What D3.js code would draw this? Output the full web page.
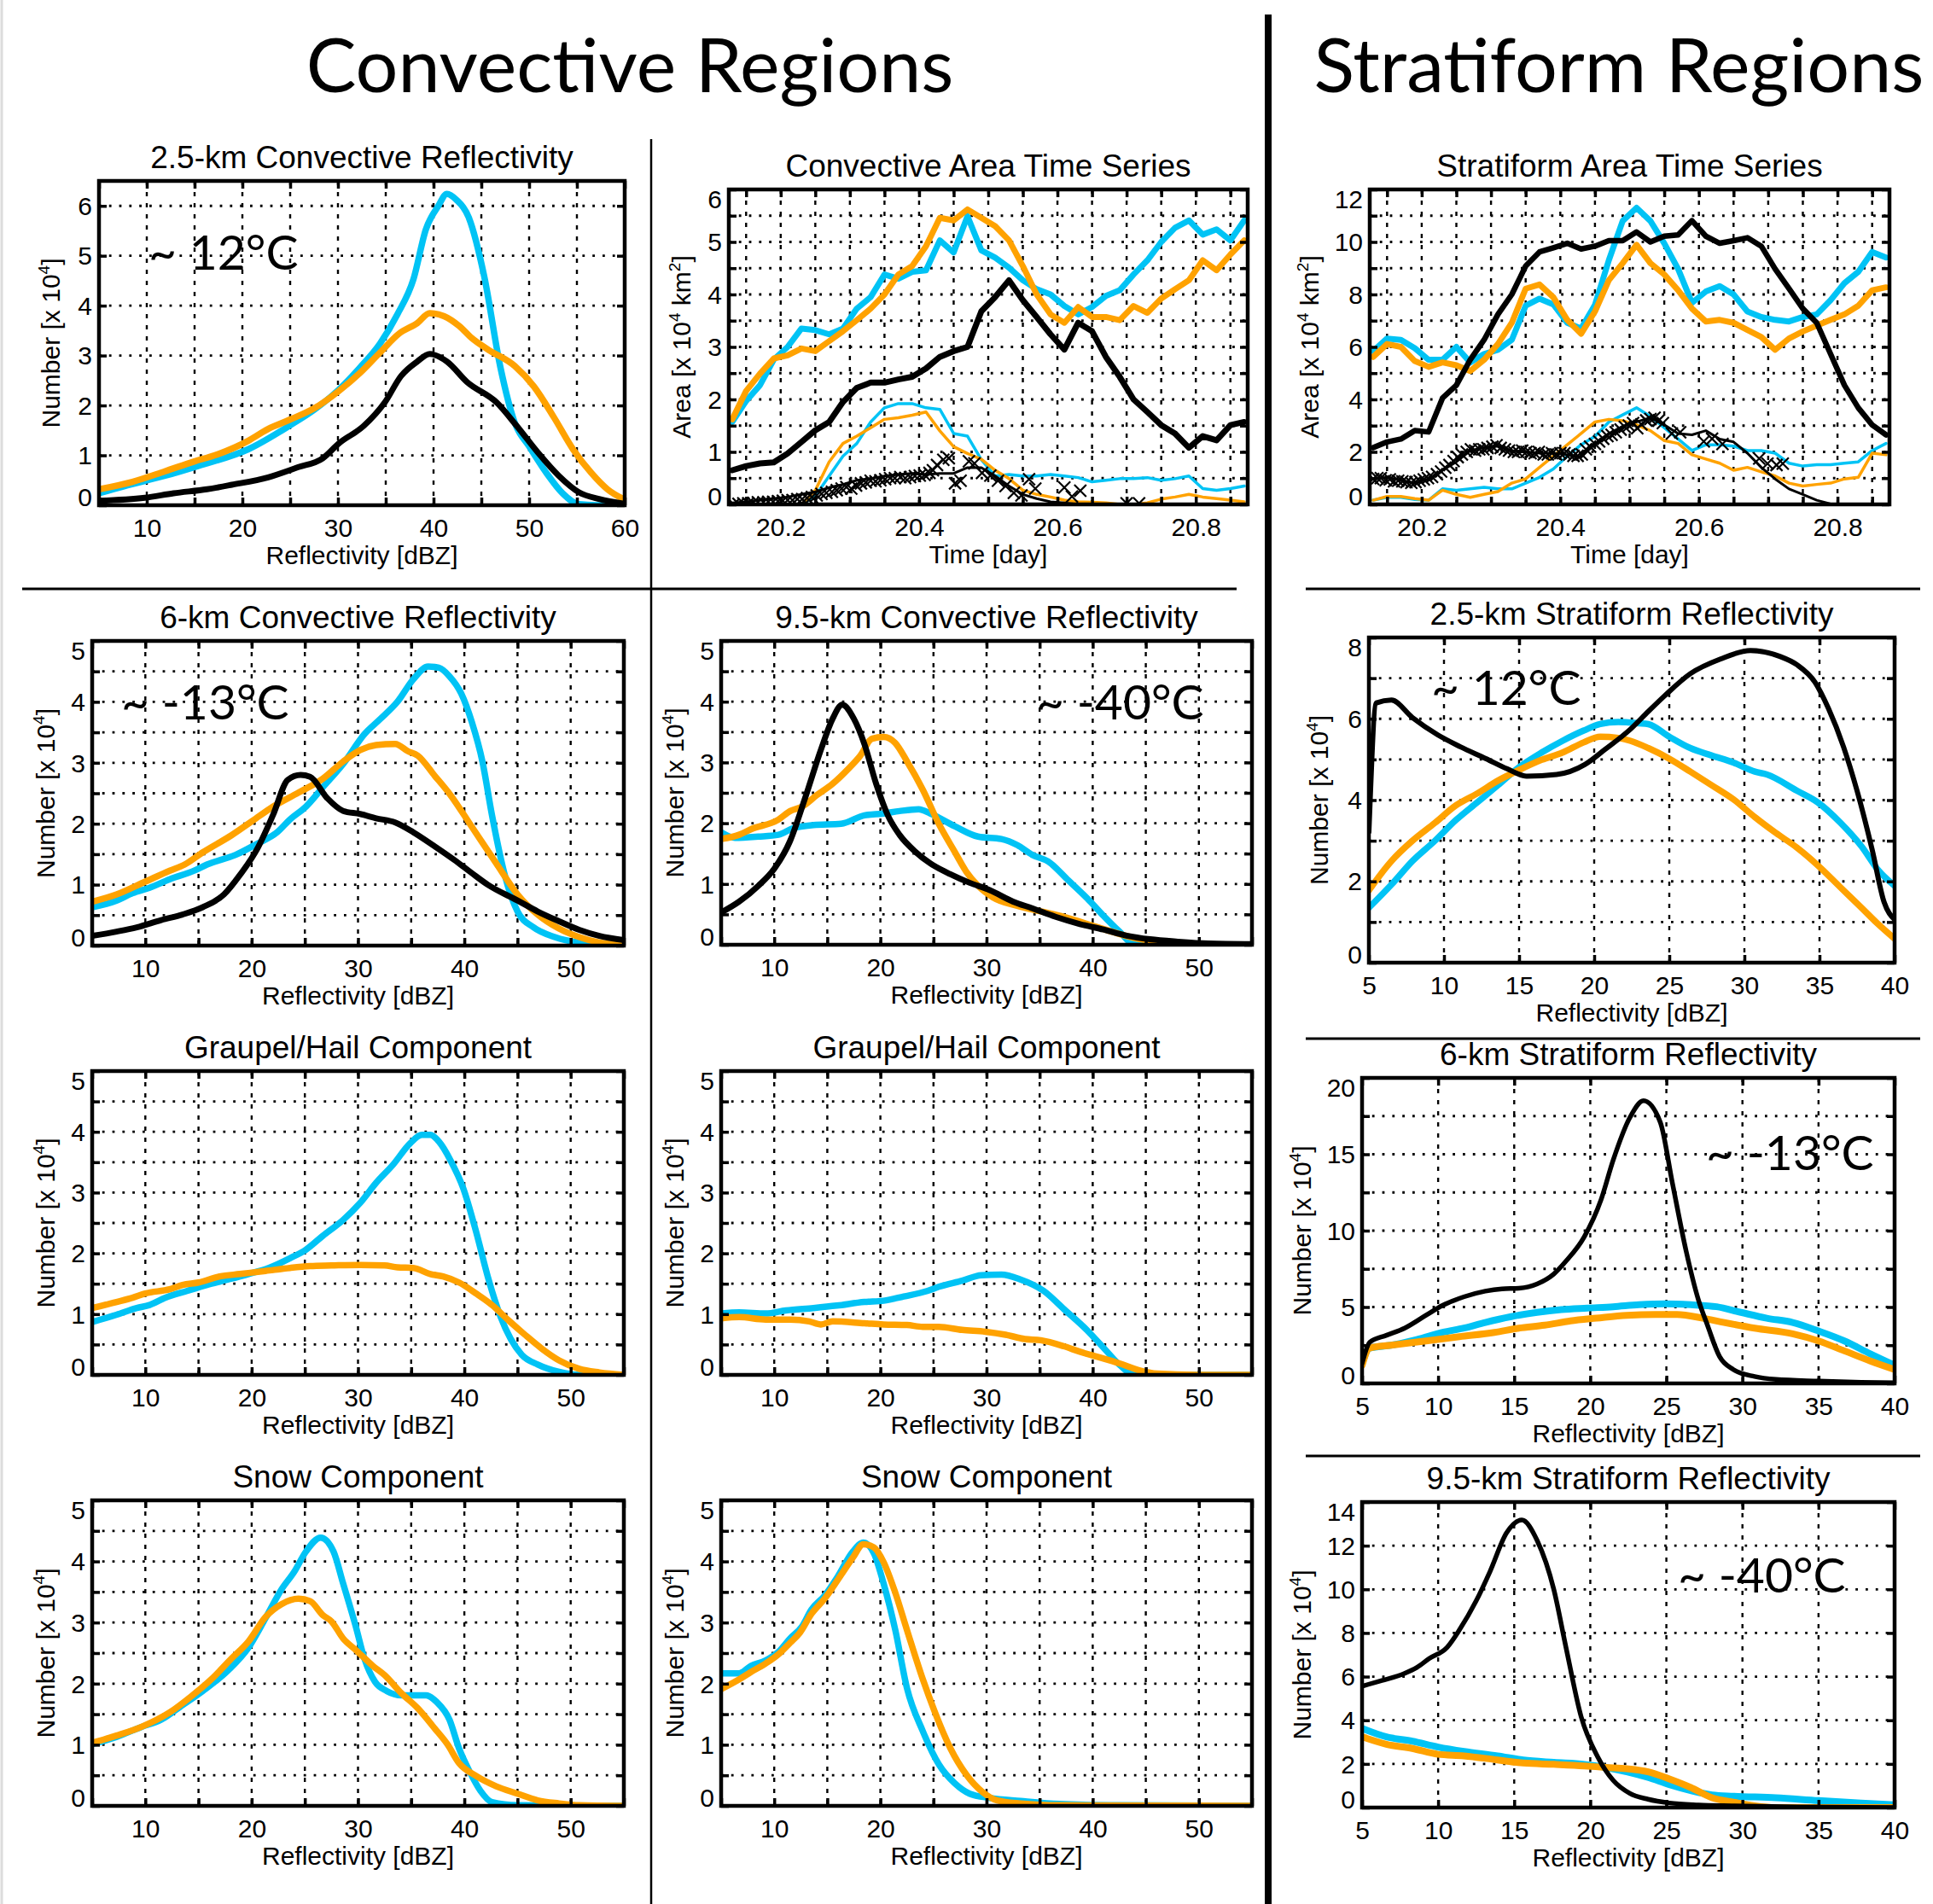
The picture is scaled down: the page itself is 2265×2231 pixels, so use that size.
<!DOCTYPE html>
<html>
<head>
<meta charset="utf-8">
<script src="https://cdn.jsdelivr.net/npm/d3@7"></script>
<style>
  body { margin: 0; background: #fff; }
  svg { display: block; }
</style>
</head>
<body>
<div id="fig"></div>
<script>
// ---------------- data ----------------
// reflectivity histograms: [dBZ, number x 10^4]
const conv25Cyan = [[5,0.24],[7.6,0.38],[11.9,0.59],[15.4,0.79],[20.6,1.12],[24.9,1.59],[27.5,1.91],[30.1,2.32],[32.3,2.76],[34.4,3.24],[36.2,3.82],[37.9,4.53],[39.2,5.53],[40.5,6.0],[41.4,6.24],[42.4,6.12],[43.7,5.76],[45.3,4.59],[47.0,2.76],[48.5,1.65],[50.0,1.18],[51.8,0.65],[53.5,0.24],[55.2,0.02],[57,0],[60,0]];
const conv25Orange = [[5,0.32],[8.5,0.47],[11.9,0.68],[15,0.88],[17.1,1.0],[20.6,1.29],[22.7,1.53],[24.9,1.71],[27.5,1.94],[30.1,2.29],[32.3,2.65],[34.4,3.06],[36.4,3.44],[38.3,3.65],[39.6,3.85],[41.1,3.79],[42.7,3.59],[44.0,3.35],[45.7,3.12],[48.5,2.79],[50.5,2.38],[52.6,1.76],[54.6,1.12],[56.5,0.65],[58.2,0.32],[59.9,0.12]];
const conv25Black = [[5,0.09],[9.8,0.15],[12.8,0.24],[16.3,0.32],[18.9,0.41],[22.7,0.56],[25.8,0.76],[28.4,0.94],[30.1,1.24],[32.7,1.59],[34.9,2.06],[36.6,2.59],[38.3,2.88],[39.6,3.03],[41.4,2.88],[43.5,2.47],[46.6,2.06],[48.7,1.59],[50.9,1.06],[53.1,0.59],[55.2,0.26],[57.4,0.12],[59.9,0.03]];

const conv6Cyan = [[5,0.63],[7.3,0.74],[8.8,0.86],[10.4,0.95],[12.3,1.09],[14.6,1.23],[15.8,1.33],[18.5,1.49],[20.5,1.67],[22.4,1.86],[23.6,2.07],[25.1,2.28],[26.7,2.6],[28.6,2.98],[30.6,3.47],[32.1,3.72],[33.7,4.0],[35.2,4.37],[36.6,4.58],[37.6,4.56],[38.6,4.42],[39.7,4.14],[40.7,3.67],[41.7,3.02],[42.6,2.14],[43.8,1.16],[45.0,0.56],[46.5,0.3],[48.5,0.14],[50.8,0.05],[55,0]];
const conv6Orange = [[5,0.72],[7.3,0.84],[10,1.05],[12.3,1.23],[13.7,1.33],[15.4,1.53],[18.1,1.81],[20.1,2.05],[22.0,2.28],[24.4,2.51],[26.7,2.74],[28.6,3.02],[30.2,3.21],[31.7,3.29],[33.5,3.31],[34.7,3.19],[35.6,3.12],[37.2,2.79],[38.7,2.47],[40.7,1.95],[43.0,1.35],[45.0,0.84],[46.9,0.51],[48.9,0.28],[50.8,0.14],[52.7,0.05],[55,0.01]];
const conv6Black = [[5,0.16],[7.3,0.23],[9.2,0.3],[11.5,0.42],[13.5,0.51],[15.4,0.63],[17.4,0.84],[18.9,1.16],[20.5,1.58],[22.0,2.14],[23.4,2.72],[24.6,2.8],[25.5,2.77],[27.1,2.42],[28.6,2.21],[30.2,2.16],[31.7,2.09],[33.5,2.02],[35.2,1.86],[37.2,1.63],[39.1,1.4],[40.7,1.19],[42.2,1.0],[45.0,0.74],[46.9,0.56],[48.9,0.4],[50.8,0.26],[52.7,0.16],[55,0.09]];

const conv95Cyan = [[5,1.85],[6.3,1.76],[8.5,1.78],[10.4,1.81],[11.8,1.92],[13.7,1.97],[16.3,1.99],[18.5,2.13],[20.3,2.16],[21.8,2.2],[23.6,2.23],[24.7,2.16],[27.0,1.95],[29.2,1.78],[31.4,1.74],[32.9,1.64],[34.3,1.48],[35.8,1.37],[37.7,1.06],[39.5,0.76],[41.0,0.48],[42.5,0.22],[43.9,0.01],[46.1,0],[55,0]];
const conv95Orange = [[5,1.74],[6.7,1.81],[7.8,1.9],[10.4,2.06],[11.5,2.2],[12.6,2.27],[14.0,2.46],[15.5,2.65],[17.0,2.9],[18.1,3.11],[19.2,3.39],[20.3,3.42],[21.4,3.32],[22.5,3.02],[24.0,2.55],[25.5,1.99],[27.0,1.53],[28.1,1.2],[29.2,0.97],[30.6,0.78],[32.9,0.64],[35.1,0.55],[37.3,0.46],[39.5,0.34],[41.7,0.22],[43.9,0.11],[46.1,0.05],[49.8,0.0],[55,0]];
const conv95Black = [[5,0.53],[6.7,0.71],[8.5,0.97],[10.0,1.25],[11.5,1.71],[12.9,2.41],[14.4,3.21],[15.5,3.72],[16.4,3.95],[17.5,3.72],[18.5,3.3],[19.6,2.65],[20.7,2.13],[21.8,1.81],[23.3,1.53],[24.7,1.34],[26.6,1.16],[28.4,1.02],[30.3,0.9],[32.5,0.71],[34.3,0.6],[36.5,0.46],[38.8,0.34],[41.0,0.25],[43.2,0.15],[45.4,0.09],[48.0,0.05],[50.9,0.02],[55,0.01]];

const strat25Black = [[5,3.22],[5.5,6.39],[6.5,6.46],[7.9,6.03],[9.6,5.6],[11.1,5.31],[12.8,5.02],[14.2,4.77],[15.5,4.59],[17.5,4.63],[19.4,4.88],[20.7,5.24],[22.4,5.74],[23.6,6.18],[24.7,6.57],[26.4,7.11],[28.4,7.47],[30.4,7.68],[32.4,7.53],[33.5,7.33],[34.7,6.9],[35.6,6.25],[36.6,5.31],[37.5,4.23],[38.5,2.79],[39.3,1.49],[40,1.06]];
const strat25Cyan = [[5,1.35],[6.5,1.92],[7.9,2.5],[9.4,3.0],[10.8,3.51],[12.2,3.94],[13.6,4.37],[15.0,4.81],[16.5,5.17],[17.9,5.46],[19.3,5.71],[20.4,5.87],[21.6,5.92],[23.0,5.89],[23.6,5.87],[25.0,5.56],[26.4,5.28],[27.8,5.1],[29.3,4.92],[30.7,4.7],[31.5,4.63],[33.5,4.23],[34.9,3.94],[36.4,3.44],[37.8,2.86],[38.9,2.28],[40,1.89]];
const strat25Orange = [[5,1.78],[6.5,2.5],[7.9,3.0],[9.4,3.44],[10.8,3.87],[12.2,4.16],[13.6,4.48],[15.0,4.74],[16.5,4.99],[17.9,5.17],[19.3,5.42],[20.4,5.56],[21.6,5.53],[22.4,5.46],[23.6,5.28],[25.0,5.02],[26.4,4.7],[27.8,4.37],[29.3,4.01],[30.7,3.58],[32.1,3.19],[33.5,2.83],[34.9,2.39],[36.4,1.85],[37.8,1.35],[38.9,0.95],[40,0.59]];

const graupelLowCyan = [[5,0.87],[7.3,0.99],[9.2,1.1],[10.4,1.15],[11.9,1.27],[13.9,1.38],[15.8,1.48],[17.8,1.57],[19.7,1.66],[21.6,1.76],[23.6,1.92],[25.1,2.06],[26.7,2.29],[28.6,2.55],[30.2,2.83],[31.7,3.16],[33.3,3.46],[34.9,3.81],[36.0,3.95],[36.8,3.95],[37.6,3.84],[38.7,3.53],[39.9,3.07],[41.1,2.36],[42.2,1.62],[43.4,0.96],[45.4,0.33],[46.9,0.17],[48.9,0.05],[50.8,0.0],[55,0]];
const graupelLowOrange = [[5,1.1],[7.3,1.2],[8.8,1.27],[10.0,1.34],[12.3,1.41],[13.5,1.48],[15.0,1.52],[17.0,1.62],[18.9,1.66],[21.3,1.71],[23.6,1.76],[25.5,1.79],[27.5,1.8],[30.2,1.81],[32.5,1.8],[33.7,1.77],[35.2,1.76],[36.8,1.66],[38.0,1.62],[39.5,1.52],[41.1,1.34],[42.6,1.15],[44.2,0.89],[45.7,0.66],[47.3,0.43],[48.9,0.24],[50.8,0.1],[52.7,0.04],[55,0.0]];
const graupelHighCyan = [[5,1.01],[6.7,1.03],[9.2,1.01],[11.1,1.06],[13.7,1.1],[15.9,1.14],[18.5,1.2],[20.3,1.22],[22.2,1.29],[24.4,1.38],[25.5,1.45],[27.7,1.55],[29.5,1.64],[31.4,1.65],[33.2,1.57],[35.4,1.38],[37.3,1.08],[39.5,0.73],[41.0,0.45],[42.5,0.17],[43.9,0.0],[46.1,0],[55,0]];
const graupelHighOrange = [[5,0.93],[6.7,0.95],[9.2,0.91],[11.5,0.91],[13.3,0.88],[14.4,0.83],[15.5,0.88],[18.5,0.85],[20.3,0.83],[22.5,0.82],[24.0,0.79],[25.5,0.79],[27.7,0.74],[29.9,0.71],[31.8,0.66],[33.6,0.59],[35.1,0.57],[37.3,0.47],[38.8,0.38],[40.6,0.29],[42.5,0.19],[44.3,0.08],[46.1,0.02],[49.8,0],[55,0]];

const strat6Black = [[5,1.29],[5.5,2.69],[6.6,3.15],[7.8,3.62],[9.2,4.46],[10.3,5.11],[11.7,5.67],[13.1,6.04],[14.2,6.19],[15.3,6.23],[16.5,6.51],[17.6,7.16],[18.4,8.0],[19.6,9.59],[20.7,12.0],[21.5,14.6],[22.6,17.4],[23.5,18.5],[24.6,17.1],[25.4,13.1],[26.3,8.66],[27.1,5.49],[27.7,3.81],[28.5,1.75],[29.4,0.91],[30.8,0.45],[32.2,0.26],[35.0,0.15],[37.8,0.07],[40,0.04]];
const strat6Cyan = [[5,1.29],[5.5,2.31],[6.9,2.5],[8.6,2.87],[10.3,3.34],[11.7,3.62],[13.1,3.99],[14.8,4.37],[16.5,4.65],[18.1,4.83],[19.8,4.93],[21.5,5.02],[23.2,5.15],[24.9,5.21],[26.6,5.15],[28.3,5.02],[29.9,4.65],[31.6,4.27],[33.3,3.99],[35.0,3.43],[36.7,2.78],[38.4,1.94],[40,1.19]];
const strat6Orange = [[5,1.19],[5.5,2.31],[6.9,2.5],[9.2,2.78],[11.4,3.06],[13.7,3.34],[15.3,3.62],[17.0,3.81],[18.7,4.09],[20.4,4.27],[22.4,4.46],[24.3,4.51],[25.7,4.51],[27.4,4.27],[28.8,3.99],[30.8,3.62],[33.3,3.25],[35.0,2.78],[36.7,2.13],[38.4,1.47],[40,0.91]];

const snowLowCyan = [[5,1.01],[7.3,1.13],[9.6,1.29],[11.5,1.41],[13.5,1.65],[15.4,1.88],[17.8,2.22],[19.7,2.59],[21.3,3.07],[22.8,3.54],[24.0,3.83],[25.1,4.16],[26.5,4.39],[27.7,4.16],[28.6,3.64],[29.8,2.93],[30.6,2.41],[31.6,2.03],[32.7,1.88],[34.1,1.81],[36.4,1.81],[37.4,1.7],[38.6,1.41],[39.5,0.94],[40.5,0.56],[41.5,0.25],[42.6,0.06],[45.0,0.01],[55,0]];
const snowLowOrange = [[5,1.03],[7.3,1.15],[9.6,1.29],[12.3,1.53],[14.3,1.79],[16.2,2.07],[18.1,2.41],[19.7,2.69],[21.3,3.09],[22.8,3.3],[24.4,3.39],[25.5,3.35],[26.7,3.12],[27.5,3.02],[28.6,2.74],[29.8,2.55],[31.4,2.29],[32.5,2.14],[34.1,1.84],[35.6,1.6],[37.2,1.27],[38.4,1.01],[39.5,0.7],[41.1,0.49],[43.0,0.32],[45.0,0.2],[46.9,0.09],[48.9,0.04],[50.8,0.01],[55,0]];
const snowHighCyan = [[5,2.17],[6.7,2.17],[7.8,2.29],[9.2,2.38],[10.4,2.52],[11.5,2.74],[12.6,2.93],[13.5,3.21],[14.8,3.45],[15.9,3.73],[17.4,4.16],[18.4,4.31],[19.4,4.13],[20.3,3.64],[21.4,2.88],[22.5,1.93],[24.0,1.22],[25.5,0.68],[27.0,0.37],[28.4,0.2],[30.3,0.13],[33.2,0.08],[36.9,0.03],[42.5,0.01],[55,0]];
const snowHighOrange = [[5,1.91],[6.7,2.07],[7.8,2.19],[9.2,2.33],[10.4,2.48],[11.5,2.67],[12.4,2.83],[13.5,3.14],[14.8,3.4],[16.3,3.78],[17.4,4.06],[18.4,4.28],[19.4,4.23],[20.3,3.99],[21.4,3.49],[22.5,2.88],[24.0,2.07],[25.1,1.55],[26.6,0.94],[28.1,0.51],[29.6,0.23],[31.0,0.09],[33.2,0.04],[36.9,0.01],[55,0]];

const strat95Black = [[5,5.56],[6.3,5.82],[7.8,6.15],[8.6,6.42],[9.4,6.82],[10.6,7.35],[11.4,8.14],[12.5,9.47],[13.4,10.8],[14.5,12.59],[15.5,13.18],[16.5,12.25],[17.6,10.0],[18.4,7.35],[19.4,4.16],[20.5,2.31],[21.5,1.25],[22.6,0.65],[23.8,0.38],[25.2,0.21],[27.1,0.12],[29.4,0.08],[33.6,0.03],[40,0]];
const strat95Cyan = [[5,3.63],[6.6,3.24],[8.3,3.04],[10.0,2.77],[11.7,2.57],[13.9,2.37],[15.6,2.18],[17.6,2.07],[19.6,1.98],[21.0,1.84],[22.4,1.64],[23.8,1.38],[25.2,1.05],[26.6,0.78],[28.0,0.58],[29.4,0.52],[32.2,0.45],[35.0,0.32],[37.8,0.21],[40,0.13]];
const strat95Orange = [[5,3.24],[6.6,2.9],[8.3,2.71],[10.0,2.44],[11.7,2.37],[13.9,2.18],[15.6,2.04],[17.6,1.98],[19.6,1.91],[21.0,1.84],[22.4,1.78],[23.8,1.64],[25.2,1.31],[26.6,0.92],[28.0,0.45],[29.4,0.25],[30.8,0.08],[32.2,0],[40,0]];

// area time series: day, area x 10^4 km^2
const timeDays = [20.13,20.15,20.17,20.19,20.21,20.23,20.25,20.27,20.29,20.31,20.33,20.35,20.37,20.39,20.41,20.43,20.45,20.47,20.49,20.51,20.53,20.55,20.57,20.59,20.61,20.63,20.65,20.67,20.69,20.71,20.73,20.75,20.77,20.79,20.81,20.83,20.85,20.87];
const convAreaCyan = [1.57,1.97,2.27,2.76,3.0,3.35,3.32,3.24,3.35,3.73,3.95,4.38,4.3,4.43,4.46,5.03,4.8,5.49,4.84,4.7,4.51,4.27,4.1,4.0,3.78,3.62,3.76,3.97,4.08,4.38,4.65,5.0,5.27,5.41,5.14,5.24,5.03,5.41];
const convAreaOrange = [1.62,2.16,2.49,2.78,2.84,2.97,2.92,3.11,3.3,3.51,3.73,4.0,4.38,4.54,4.92,5.46,5.41,5.62,5.46,5.3,5.03,4.54,4.0,3.62,3.46,3.76,3.57,3.57,3.51,3.78,3.65,3.92,4.1,4.27,4.65,4.46,4.76,5.03];
const convAreaBlack = [0.65,0.73,0.78,0.8,0.97,1.19,1.41,1.57,1.95,2.22,2.32,2.32,2.38,2.43,2.59,2.81,2.92,3.0,3.68,3.95,4.27,3.89,3.57,3.24,2.95,3.46,3.3,2.81,2.43,2.0,1.76,1.51,1.35,1.08,1.3,1.22,1.51,1.57];
const convAreaCyanThin = [0,0,0,0,0,0,0.16,0.54,0.92,1.16,1.57,1.84,1.92,1.92,1.84,1.81,1.35,1.3,0.85,0.54,0.57,0.54,0.54,0.57,0.54,0.51,0.43,0.46,0.49,0.49,0.51,0.46,0.49,0.54,0.3,0.27,0.3,0.35];
const convAreaOrangeThin = [0,0,0,0,0,0,0.27,0.81,1.16,1.3,1.46,1.62,1.65,1.7,1.76,1.4,1.1,0.97,0.86,0.65,0.49,0.27,0.19,0.14,0.08,0.05,0.04,0.03,0,0,0.03,0.1,0.14,0.19,0.14,0.11,0.08,0.05];
const convAreaBlackThin = [0.03,0.05,0.08,0.11,0.14,0.19,0.24,0.32,0.38,0.46,0.49,0.54,0.57,0.59,0.57,0.59,0.59,0.7,0.7,0.54,0.35,0.19,0.11,0.05,0.03,0,0,0,0,0,0,0,0,0,0,0,0,0];
const convAreaMarks = [[20.132,0.0],[20.139,0.01],[20.146,0.02],[20.153,0.02],[20.16,0.03],[20.167,0.04],[20.175,0.04],[20.182,0.05],[20.189,0.05],[20.196,0.06],[20.203,0.07],[20.21,0.08],[20.217,0.08],[20.224,0.1],[20.231,0.1],[20.238,0.12],[20.245,0.14],[20.252,0.17],[20.259,0.2],[20.266,0.22],[20.274,0.24],[20.281,0.27],[20.288,0.3],[20.295,0.33],[20.302,0.3],[20.309,0.36],[20.316,0.4],[20.323,0.42],[20.33,0.45],[20.337,0.44],[20.344,0.46],[20.351,0.48],[20.358,0.5],[20.365,0.5],[20.373,0.52],[20.38,0.5],[20.387,0.52],[20.394,0.54],[20.401,0.55],[20.408,0.56],[20.415,0.6],[20.42,0.65],[20.426,0.75],[20.435,0.85],[20.443,0.88],[20.452,0.4],[20.46,0.45],[20.472,0.82],[20.48,0.78],[20.491,0.6],[20.503,0.55],[20.514,0.45],[20.525,0.35],[20.537,0.22],[20.548,0.17],[20.559,0.48],[20.568,0.3],[20.61,0.32],[20.621,0.15],[20.633,0.26],[20.7,0.02],[20.718,0.02]];

const stratAreaCyan = [5.84,6.32,6.27,5.95,5.51,5.51,6.0,5.41,5.73,5.89,6.27,7.57,7.84,7.62,6.92,6.7,7.6,9.3,10.8,11.3,10.8,9.95,8.97,7.68,8.11,8.32,8.0,7.35,7.14,7.03,6.97,7.14,7.24,7.78,8.43,8.86,9.62,9.41];
const stratAreaOrange = [5.62,6.11,6.0,5.46,5.24,5.41,5.3,5.08,5.51,6.11,6.92,8.22,8.38,7.89,7.03,6.5,7.35,8.54,9.19,9.89,9.19,8.76,8.16,7.46,6.97,7.03,6.92,6.65,6.38,5.89,6.32,6.59,6.81,7.03,7.24,7.57,8.16,8.27];
const stratAreaBlack = [2.16,2.38,2.49,2.81,2.76,4.05,4.54,5.51,6.27,7.24,8.0,9.08,9.62,9.78,9.95,9.73,9.84,10.05,10.05,10.38,10.0,10.22,10.27,10.81,10.22,9.95,10.05,10.16,9.84,8.97,8.22,7.46,6.92,5.73,4.54,3.68,3.03,2.65];
const stratAreaCyanThin = [0.16,0.27,0.27,0.19,0.16,0.59,0.54,0.59,0.65,0.59,0.59,0.81,1.03,1.35,1.84,2.27,2.59,3.14,3.41,3.68,3.35,2.92,2.49,2.05,2.27,2.27,2.22,2.05,2.05,1.95,1.57,1.46,1.51,1.51,1.57,1.62,2.05,2.32];
const stratAreaOrangeThin = [0.16,0.3,0.3,0.22,0.16,0.54,0.38,0.27,0.38,0.49,0.81,0.97,1.41,1.84,2.27,2.7,3.14,3.24,3.19,3.03,2.81,2.43,2.32,1.89,1.73,1.57,1.3,1.41,1.24,1.08,0.81,0.7,0.76,0.81,0.97,1.03,1.95,1.89];
const stratAreaBlackThin = [0.97,1.03,0.92,0.81,0.97,1.3,1.62,2.05,2.16,2.22,2.05,2.0,1.95,1.95,1.89,1.8,2.3,2.7,2.97,3.14,3.3,3.03,2.7,2.65,2.81,2.49,2.38,1.95,1.41,0.97,0.59,0.38,0.16,0.02,0,0,0,0];
const stratAreaMarks = [[20.13,0.97],[20.136,1.0],[20.141,1.0],[20.148,0.92],[20.154,0.95],[20.16,0.88],[20.166,0.9],[20.172,0.88],[20.178,0.85],[20.185,0.82],[20.191,0.85],[20.197,0.9],[20.203,0.95],[20.209,1.0],[20.215,1.05],[20.222,1.15],[20.228,1.25],[20.234,1.4],[20.24,1.5],[20.246,1.65],[20.252,1.8],[20.258,1.9],[20.265,2.0],[20.271,2.1],[20.277,2.05],[20.283,2.1],[20.289,2.1],[20.295,2.15],[20.302,2.2],[20.308,2.25],[20.314,2.15],[20.32,2.1],[20.326,2.05],[20.333,2.0],[20.339,2.0],[20.345,2.05],[20.351,2.0],[20.357,1.95],[20.363,1.95],[20.369,2.0],[20.376,1.9],[20.382,1.9],[20.388,1.95],[20.394,1.9],[20.4,1.95],[20.406,1.95],[20.413,1.9],[20.419,1.85],[20.425,1.85],[20.431,1.9],[20.437,2.1],[20.443,2.2],[20.45,2.3],[20.456,2.4],[20.462,2.5],[20.468,2.6],[20.474,2.65],[20.48,2.75],[20.487,2.85],[20.493,2.95],[20.499,3.0],[20.505,3.1],[20.511,2.9],[20.517,3.05],[20.524,3.2],[20.53,3.25],[20.536,3.3],[20.542,3.2],[20.548,3.1],[20.561,2.7],[20.573,2.75],[20.607,2.4],[20.619,2.5],[20.634,2.3],[20.687,1.75],[20.699,1.55],[20.712,1.5],[20.721,1.55]];

// tick labels and text
const dbzLabelsA = [10,20,30,40,50,60];
const dbzLabelsConv = [10,20,30,40,50];
const dbzLabelsStrat = [5,10,15,20,25,30,35,40];
const dayLabels = [20.2,20.4,20.6,20.8];
const headings = ["Convective Regions","Stratiform Regions"];

// ---------------- drawing ----------------
const W = 2265, H = 2231;
const AX_FONT = "'Liberation Sans', Arial, Helvetica, sans-serif";
const BIG_FONT = "Lato, 'Open Sans', sans-serif";
const CYAN = "#00c3f5", ORANGE = "#ffa200", BLACK = "#000";

const svg = d3.select("#fig").append("svg")
  .attr("width", W).attr("height", H)
  .style("background", "#fff");

const numberTitle = [{t:"Number [x 10"},{t:"4",sup:true},{t:"]"}];
const areaTitle = [{t:"Area [x 10"},{t:"4",sup:true},{t:" km"},{t:"2",sup:true},{t:"]"}];
const fmtInt = d3.format("d"), fmtDay = d3.format(".1f");
const ts = (vals) => timeDays.map((t, i) => [t, vals[i]]);

const convGridX = d3.range(5, 55.1, 5);
const stratGridX = d3.range(5, 40.1, 5);
const dayGrid = d3.range(20.15, 20.86, 0.05);

const panels = [
  { box:[116,212,732,592], xd:[5,60], yd:[0,6.5], xg:d3.range(5,60.1,5), xl:dbzLabelsA, xf:fmtInt,
    yg:d3.range(0,6.1,1), yl:[0,1,2,3,4,5,6], title:"2.5-km Convective Reflectivity", xt:"Reflectivity [dBZ]", yt:numberTitle, yo:46,
    series:[[conv25Cyan,CYAN,7.5],[conv25Orange,ORANGE,7.5],[conv25Black,BLACK,7]], note:["~ 12°C",174,316] },
  { box:[854,222,1462,591], xd:[20.125,20.875], yd:[0,6], xg:dayGrid, xl:dayLabels, xf:fmtDay, linear:true,
    yg:d3.range(0,6.01,0.5), yl:[0,1,2,3,4,5,6], title:"Convective Area Time Series", xt:"Time [day]", yt:areaTitle, yo:45,
    series:[[ts(convAreaCyan),CYAN,7],[ts(convAreaOrange),ORANGE,7],[ts(convAreaBlack),BLACK,7],
            [ts(convAreaCyanThin),CYAN,3.5],[ts(convAreaOrangeThin),ORANGE,3.5],[ts(convAreaBlackThin),BLACK,3]], marks:convAreaMarks },
  { box:[1605,222,2214,591], xd:[20.125,20.875], yd:[0,12], xg:dayGrid, xl:dayLabels, xf:fmtDay, linear:true,
    yg:d3.range(0,12.01,1), yl:[0,2,4,6,8,10,12], title:"Stratiform Area Time Series", xt:"Time [day]", yt:areaTitle, yo:60,
    series:[[ts(stratAreaCyan),CYAN,7],[ts(stratAreaOrange),ORANGE,7],[ts(stratAreaBlack),BLACK,6.5],
            [ts(stratAreaCyanThin),CYAN,3.5],[ts(stratAreaOrangeThin),ORANGE,3.5],[ts(stratAreaBlackThin),BLACK,3]], marks:stratAreaMarks },
  { box:[108,751,731,1108], xd:[5,55], yd:[0,5], xg:convGridX, xl:dbzLabelsConv, xf:fmtInt,
    yg:d3.range(0,5.01,0.5), yl:[0,1,2,3,4,5], title:"6-km Convective Reflectivity", xt:"Reflectivity [dBZ]", yt:numberTitle, yo:44,
    series:[[conv6Cyan,CYAN,7.5],[conv6Orange,ORANGE,7.5],[conv6Black,BLACK,7]], note:["~ -13°C",142,843] },
  { box:[845,751,1467,1107], xd:[5,55], yd:[0,5], xg:convGridX, xl:dbzLabelsConv, xf:fmtInt,
    yg:d3.range(0,5.01,0.5), yl:[0,1,2,3,4,5], title:"9.5-km Convective Reflectivity", xt:"Reflectivity [dBZ]", yt:numberTitle, yo:44,
    series:[[conv95Cyan,CYAN,7.5],[conv95Orange,ORANGE,7.5],[conv95Black,BLACK,7]], note:["~ -40°C",1214,843] },
  { box:[1604,747,2220,1128], xd:[5,40], yd:[0,8], xg:stratGridX, xl:dbzLabelsStrat, xf:fmtInt,
    yg:d3.range(0,8.01,1), yl:[0,2,4,6,8], title:"2.5-km Stratiform Reflectivity", xt:"Reflectivity [dBZ]", yt:numberTitle, yo:48,
    series:[[strat25Cyan,CYAN,7.5],[strat25Orange,ORANGE,7.5],[strat25Black,BLACK,6]], note:["~ 12°C",1677,826] },
  { box:[108,1255,731,1611], xd:[5,55], yd:[0,5], xg:convGridX, xl:dbzLabelsConv, xf:fmtInt,
    yg:d3.range(0,5.01,0.5), yl:[0,1,2,3,4,5], title:"Graupel/Hail Component", xt:"Reflectivity [dBZ]", yt:numberTitle, yo:44,
    series:[[graupelLowCyan,CYAN,7.5],[graupelLowOrange,ORANGE,7.5]] },
  { box:[845,1255,1467,1611], xd:[5,55], yd:[0,5], xg:convGridX, xl:dbzLabelsConv, xf:fmtInt,
    yg:d3.range(0,5.01,0.5), yl:[0,1,2,3,4,5], title:"Graupel/Hail Component", xt:"Reflectivity [dBZ]", yt:numberTitle, yo:44,
    series:[[graupelHighCyan,CYAN,7.5],[graupelHighOrange,ORANGE,7.5]] },
  { box:[1596,1263,2220,1621], xd:[5,40], yd:[0,20], xg:stratGridX, xl:dbzLabelsStrat, xf:fmtInt,
    yg:d3.range(0,20.01,2.5), yl:[0,5,10,15,20], title:"6-km Stratiform Reflectivity", xt:"Reflectivity [dBZ]", yt:numberTitle, yo:60,
    series:[[strat6Cyan,CYAN,8],[strat6Orange,ORANGE,8],[strat6Black,BLACK,5.5]], note:["~ -13°C",1999,1371] },
  { box:[108,1758,731,2116], xd:[5,55], yd:[0,5], xg:convGridX, xl:dbzLabelsConv, xf:fmtInt,
    yg:d3.range(0,5.01,0.5), yl:[0,1,2,3,4,5], title:"Snow Component", xt:"Reflectivity [dBZ]", yt:numberTitle, yo:44,
    series:[[snowLowCyan,CYAN,7.5],[snowLowOrange,ORANGE,7.5]] },
  { box:[845,1758,1467,2116], xd:[5,55], yd:[0,5], xg:convGridX, xl:dbzLabelsConv, xf:fmtInt,
    yg:d3.range(0,5.01,0.5), yl:[0,1,2,3,4,5], title:"Snow Component", xt:"Reflectivity [dBZ]", yt:numberTitle, yo:44,
    series:[[snowHighCyan,CYAN,7.5],[snowHighOrange,ORANGE,7.5]] },
  { box:[1596,1760,2220,2118], xd:[5,40], yd:[0,14], xg:stratGridX, xl:dbzLabelsStrat, xf:fmtInt,
    yg:d3.range(0,14.01,2), yl:[0,2,4,6,8,10,12,14], title:"9.5-km Stratiform Reflectivity", xt:"Reflectivity [dBZ]", yt:numberTitle, yo:60,
    series:[[strat95Cyan,CYAN,8],[strat95Orange,ORANGE,8],[strat95Black,BLACK,5.5]], note:["~ -40°C",1966,1866] }
];

// frame lines between the columns and rows
const frame = svg.append("g").attr("stroke", "#000").attr("fill", "none");
frame.append("line").attr("x1", 2).attr("x2", 2).attr("y1", 0).attr("y2", H).attr("stroke", "#dcdcdc").attr("stroke-width", 3);
frame.append("line").attr("x1", 763).attr("x2", 763).attr("y1", 163).attr("y2", H).attr("stroke-width", 2.5);
frame.append("line").attr("x1", 26).attr("x2", 1449).attr("y1", 690).attr("y2", 690).attr("stroke-width", 3);
frame.append("line").attr("x1", 1486).attr("x2", 1486).attr("y1", 17).attr("y2", H).attr("stroke-width", 8);
[690, 1217, 1706].forEach(yy =>
  frame.append("line").attr("x1", 1530).attr("x2", 2250).attr("y1", yy).attr("y2", yy).attr("stroke-width", 3));

// headings
svg.append("text").attr("x", 738).attr("y", 108).attr("text-anchor", "middle")
  .attr("font-family", BIG_FONT).attr("font-size", 88).text(headings[0]);
svg.append("text").attr("x", 1897).attr("y", 108).attr("text-anchor", "middle")
  .attr("font-family", BIG_FONT).attr("font-size", 88).text(headings[1]);

const near = (arr, v) => arr.some(a => Math.abs(a - v) < 1e-6);

panels.forEach((p, i) => {
  const [x0, y0, x1, y1] = p.box;
  const x = d3.scaleLinear().domain(p.xd).range([x0, x1]);
  const y = d3.scaleLinear().domain(p.yd).range([y1, y0]);
  const g = svg.append("g").attr("font-family", AX_FONT);

  g.append("clipPath").attr("id", "clip" + i).append("rect")
    .attr("x", x0).attr("y", y0).attr("width", x1 - x0).attr("height", y1 - y0);

  // dotted grid
  g.append("g").selectAll("line").data(p.xg).join("line")
    .attr("x1", d => x(d)).attr("x2", d => x(d)).attr("y1", y0).attr("y2", y1)
    .attr("stroke", "#000").attr("stroke-width", 2.4).attr("stroke-dasharray", "5,8");
  g.append("g").selectAll("line").data(p.yg).join("line")
    .attr("x1", x0).attr("x2", x1).attr("y1", d => y(d)).attr("y2", d => y(d))
    .attr("stroke", "#000").attr("stroke-width", 2.8).attr("stroke-dasharray", "2.8,9");

  // curves
  const plot = g.append("g").attr("clip-path", `url(#clip${i})`);
  const line = d3.line().x(d => x(d[0])).y(d => y(d[1]))
    .curve(p.linear ? d3.curveLinear : d3.curveMonotoneX);
  p.series.forEach(([data, color, w]) => {
    plot.append("path").datum(data).attr("d", line)
      .attr("fill", "none").attr("stroke", color).attr("stroke-width", w)
      .attr("stroke-linejoin", "round").attr("stroke-linecap", "round");
  });
  if (p.marks) {
    plot.append("g").selectAll("path").data(p.marks).join("path")
      .attr("transform", d => `translate(${x(d[0])},${y(d[1])})`)
      .attr("d", "M-7,-7L7,7M-7,7L7,-7")
      .attr("stroke", "#000").attr("stroke-width", 2.2).attr("fill", "none");
  }

  // axes with inward ticks
  const xFmt = d => near(p.xl, d) ? p.xf(d) : "";
  const yFmt = d => near(p.yl, d) ? fmtInt(d) : "";
  const axes = [
    g.append("g").attr("transform", `translate(0,${y1})`)
      .call(d3.axisBottom(x).tickValues(p.xg).tickFormat(xFmt).tickSize(-9).tickSizeOuter(0).tickPadding(16)),
    g.append("g").attr("transform", `translate(0,${y0})`)
      .call(d3.axisTop(x).tickValues(p.xg).tickFormat("").tickSize(-9).tickSizeOuter(0)),
    g.append("g").attr("transform", `translate(${x0},0)`)
      .call(d3.axisLeft(y).tickValues(p.yg).tickFormat(yFmt).tickSize(-9).tickSizeOuter(0).tickPadding(8)),
    g.append("g").attr("transform", `translate(${x1},0)`)
      .call(d3.axisRight(y).tickValues(p.yg).tickFormat("").tickSize(-9).tickSizeOuter(0))
  ];
  axes.forEach(a => {
    a.select(".domain").remove();
    a.attr("font-size", 30).attr("font-family", AX_FONT);
    a.selectAll("line").attr("stroke-width", 3.5);
    a.selectAll("text").attr("fill", "#000");
  });
  // end labels stay inside the frame height
  axes[2].selectAll(".tick text").attr("dy", d => {
    if (Math.abs(y(d) - y0) < 12) return "0.72em";
    if (Math.abs(y(d) - y1) < 12) return "0em";
    return "0.34em";
  });

  g.append("rect").attr("x", x0).attr("y", y0).attr("width", x1 - x0).attr("height", y1 - y0)
    .attr("fill", "none").attr("stroke", "#000").attr("stroke-width", 4.5);

  g.append("text").attr("x", (x0 + x1) / 2).attr("y", y0 - 15).attr("text-anchor", "middle")
    .attr("font-size", 37).text(p.title);
  g.append("text").attr("x", (x0 + x1) / 2).attr("y", y1 + 69).attr("text-anchor", "middle")
    .attr("font-size", 30).text(p.xt);

  const yt = g.append("text")
    .attr("transform", `translate(${x0 - p.yo},${(y0 + y1) / 2}) rotate(-90)`)
    .attr("text-anchor", "middle").attr("font-size", 30);
  let raised = false;
  p.yt.forEach(part => {
    const t = yt.append("tspan").text(part.t);
    if (part.sup) { t.attr("font-size", 19).attr("dy", -12); raised = true; }
    else if (raised) { t.attr("dy", 12); raised = false; }
  });

  if (p.note) {
    svg.append("text").attr("x", p.note[1]).attr("y", p.note[2])
      .attr("font-family", BIG_FONT).attr("font-size", 57).text(p.note[0]);
  }
});
</script>
</body>
</html>
